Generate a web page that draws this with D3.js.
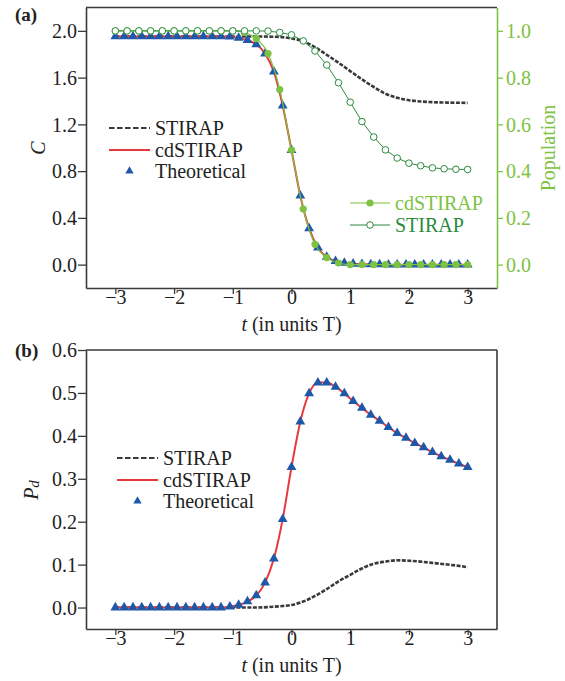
<!DOCTYPE html>
<html>
<head>
<meta charset="utf-8">
<script src="https://cdn.jsdelivr.net/npm/d3@7"></script>
<style>
  body { margin: 0; background: #fff; }
  svg text { font-family: "Liberation Serif", "Times New Roman", serif; }
</style>
</head>
<body>
<svg id="chart" width="565" height="681"></svg>
<script>
// time grids (in units T)
var tTheo = [-3, -2.85, -2.7, -2.55, -2.4, -2.25, -2.1, -1.95, -1.8, -1.65, -1.5, -1.35, -1.2,
  -1.05, -0.9, -0.75, -0.6, -0.45, -0.3, -0.15, 0, 0.15, 0.3, 0.45, 0.6, 0.75, 0.9, 1.05,
  1.2, 1.35, 1.5, 1.65, 1.8, 1.95, 2.1, 2.25, 2.4, 2.55, 2.7, 2.85, 3];
var tNum = [-3, -2.8, -2.6, -2.4, -2.2, -2, -1.8, -1.6, -1.4, -1.2, -1, -0.8, -0.6,
  -0.4, -0.2, 0, 0.2, 0.4, 0.6, 0.8, 1, 1.2, 1.4, 1.6, 1.8, 2, 2.2, 2.4, 2.6, 2.8, 3];

// panel (a): concurrence C
var cTheo = [1.952, 1.952, 1.952, 1.952, 1.952, 1.952, 1.952, 1.952, 1.952, 1.952, 1.952, 1.952, 1.952,
  1.950, 1.940, 1.920, 1.885, 1.805, 1.650, 1.360, 0.980, 0.590, 0.310, 0.145, 0.065, 0.030, 0.014, 0.007,
  0.003, 0.002, 0.001, 0, 0, 0, 0, 0, 0, 0, 0, 0, 0];
var cStirap = [1.952, 1.952, 1.952, 1.952, 1.952, 1.952, 1.952, 1.952, 1.952, 1.952, 1.952, 1.952, 1.952,
  1.951, 1.948, 1.935, 1.912, 1.860, 1.795, 1.728, 1.656, 1.585, 1.520, 1.462, 1.427, 1.407,
  1.396, 1.390, 1.387, 1.385, 1.384];
// panel (a): population (right axis)
var popStirap = [1, 1, 1, 1, 1, 1, 1, 1, 1, 1, 1, 1, 1,
  0.999, 0.993, 0.983, 0.957, 0.914, 0.854, 0.778, 0.695, 0.612, 0.546, 0.491, 0.456, 0.434,
  0.423, 0.414, 0.410, 0.408, 0.407];
var popCd = [1, 1, 1, 1, 1, 1, 1, 1, 1, 1, 1, 0.993,
  0.967, 0.903, 0.749, 0.490, 0.238, 0.087, 0.030, 0.007,
  0, 0, 0, 0, 0, 0, 0, 0, 0, 0, 0];

// panel (b): P_d
var pdTheo = [0, 0, 0, 0, 0, 0, 0, 0, 0, 0, 0, 0, 0,
  0.002, 0.006, 0.014, 0.028, 0.058, 0.114, 0.206, 0.327, 0.433, 0.499, 0.524, 0.524, 0.514, 0.499, 0.481,
  0.465, 0.449, 0.435, 0.420, 0.406, 0.395, 0.383, 0.373, 0.362, 0.352, 0.344, 0.335, 0.327];
var pdStirap = [0, 0, 0, 0, 0, 0, 0, 0, 0, 0, 0, 0, 0,
  0.001, 0.003, 0.006, 0.014, 0.027, 0.043, 0.061, 0.076, 0.091, 0.102, 0.107, 0.110, 0.109,
  0.107, 0.104, 0.101, 0.098, 0.094];

var xTicks = [-3, -2, -1, 0, 1, 2, 3];
var cTicks = [0, 0.4, 0.8, 1.2, 1.6, 2.0];
var popTicks = [0, 0.2, 0.4, 0.6, 0.8, 1.0];
var pdTicks = [0, 0.1, 0.2, 0.3, 0.4, 0.5, 0.6];

var RED = "#e8383d", BLUE = "#1f58a8", GRAY = "#3a3a3a",
    LGREEN = "#7dc242", DGREEN = "#2a8a3c", FRAME = "#3a3a3a";
var SERIF = "Liberation Serif";

var svg = d3.select("#chart").attr("font-family", SERIF);
var left = 86, right = 497;

var x = d3.scaleLinear().domain([-3.5, 3.5]).range([left, right]);

function fmt(d) { return d3.format(".1f")(d).replace("-", "\u2212"); }

function zip(ts, vs) { return ts.map(function(t, i) { return [t, vs[i]]; }); }

function drawXAxis(g, y0) {
  var ax = g.append("g").attr("transform", "translate(0," + y0 + ")");
  ax.call(d3.axisBottom(x).tickValues(d3.range(-3.5, 3.51, 0.5)).tickSize(3.5).tickFormat("").tickSizeOuter(0));
  ax.call(d3.axisBottom(x).tickValues(xTicks).tickSize(6).tickSizeOuter(0)
    .tickFormat(function(d) { return String(d).replace("-", "\u2212"); }));
  ax.attr("font-family", SERIF);
  ax.selectAll("path").attr("stroke", FRAME).attr("stroke-width", 1.6);
  ax.selectAll("line").attr("stroke", FRAME).attr("stroke-width", 1.3);
  ax.selectAll("text").attr("y", 16).attr("dy", 0)
    .attr("font-size", 20).attr("fill", "#222");
  g.append("text")
    .attr("x", x(0)).attr("y", y0 + 43)
    .attr("text-anchor", "middle").attr("font-size", 20).attr("fill", "#222")
    .call(function(t) {
      t.append("tspan").attr("font-style", "italic").text("t");
      t.append("tspan").text(" (in units T)");
    });
}

function drawYAxis(g, y, major, minorStep, color, side) {
  var d = y.domain();
  var minor = d3.range(Math.ceil(d[0] / minorStep) * minorStep, d[1] + 1e-9, minorStep);
  var ax = g.append("g").attr("transform", "translate(" + (side === "left" ? left : right) + ",0)");
  var mk = side === "left" ? d3.axisLeft : d3.axisRight;
  ax.call(mk(y).tickValues(minor).tickSize(4).tickFormat("").tickSizeOuter(0));
  ax.call(mk(y).tickValues(major).tickSize(side === "left" ? 8 : 6).tickPadding(side === "left" ? 1 : 3)
    .tickSizeOuter(0).tickFormat(fmt));
  ax.attr("font-family", SERIF);
  ax.selectAll("path").attr("stroke", color).attr("stroke-width", 1.6);
  ax.selectAll("line").attr("stroke", color).attr("stroke-width", 1.3);
  ax.selectAll("text").attr("font-size", 20).attr("fill", color === FRAME ? "#222" : color)
    .attr("dy", "0.34em");
}

function lineOf(y) {
  return d3.line().x(function(d) { return x(d[0]); }).y(function(d) { return y(d[1]); })
    .curve(d3.curveMonotoneX);
}

function triangles(g, data, y) {
  g.append("g").selectAll("path").data(data).enter().append("path")
    .attr("d", d3.symbol(d3.symbolTriangle, 42))
    .attr("transform", function(d) { return "translate(" + x(d[0]) + "," + y(d[1]) + ")"; })
    .attr("fill", BLUE);
}

function legendRow(g, x0, x1, yy, text, kind) {
  if (kind === "dash")
    g.append("line").attr("x1", x0).attr("x2", x1).attr("y1", yy).attr("y2", yy)
      .attr("stroke", GRAY).attr("stroke-width", 1.8).attr("stroke-dasharray", "5.5,2.5");
  else if (kind === "red")
    g.append("line").attr("x1", x0).attr("x2", x1).attr("y1", yy).attr("y2", yy)
      .attr("stroke", RED).attr("stroke-width", 2);
  else
    g.append("path").attr("d", d3.symbol(d3.symbolTriangle, 30))
      .attr("transform", "translate(" + ((x0 + x1) / 2) + "," + yy + ")").attr("fill", BLUE);
  g.append("text").attr("x", x1 + 5).attr("y", yy + 7).attr("font-size", 20).attr("fill", "#222").text(text);
}

// ---------------- panel (a) ----------------
var ga = svg.append("g");
var ya = d3.scaleLinear().domain([-0.2, 2.2]).range([288, 7.5]);
var yp = d3.scaleLinear().domain([-0.1, 1.1]).range([288, 7.5]);

ga.append("line").attr("x1", left).attr("x2", right).attr("y1", 7.5).attr("y2", 7.5)
  .attr("stroke", FRAME).attr("stroke-width", 1.6);

ga.append("path").datum(zip(tNum, cStirap)).attr("d", lineOf(ya))
  .attr("fill", "none").attr("stroke", GRAY).attr("stroke-width", 2.6).attr("stroke-dasharray", "4,1.5");
ga.append("path").datum(zip(tTheo, cTheo)).attr("d", lineOf(ya))
  .attr("fill", "none").attr("stroke", RED).attr("stroke-width", 2);
triangles(ga, zip(tTheo, cTheo), ya);

ga.append("path").datum(zip(tNum, popCd)).attr("d", lineOf(yp))
  .attr("fill", "none").attr("stroke", LGREEN).attr("stroke-width", 1.2);
ga.append("g").selectAll("circle").data(zip(tNum, popCd)).enter().append("circle")
  .attr("cx", function(d) { return x(d[0]); }).attr("cy", function(d) { return yp(d[1]); })
  .attr("r", 3.6).attr("fill", LGREEN);

ga.append("path").datum(zip(tNum, popStirap)).attr("d", d3.line()
    .x(function(d) { return x(d[0]); }).y(function(d) { return yp(d[1]); }))
  .attr("fill", "none").attr("stroke", DGREEN).attr("stroke-width", 1);
ga.append("g").selectAll("circle").data(zip(tNum, popStirap)).enter().append("circle")
  .attr("cx", function(d) { return x(d[0]); }).attr("cy", function(d) { return yp(d[1]); })
  .attr("r", 3.3).attr("fill", "#fff").attr("stroke", DGREEN).attr("stroke-width", 1);

drawXAxis(ga, 288);
drawYAxis(ga, ya, cTicks, 0.2, FRAME, "left");
drawYAxis(ga, yp, popTicks, 0.1, LGREEN, "right");

ga.append("text").attr("transform", "translate(45,148) rotate(-90)")
  .attr("text-anchor", "middle").attr("font-size", 20).attr("font-style", "italic").attr("fill", "#222").text("C");
ga.append("text").attr("transform", "translate(555,148) rotate(-90)")
  .attr("text-anchor", "middle").attr("font-size", 20).attr("fill", LGREEN).text("Population");
ga.append("text").attr("x", 15).attr("y", 21).attr("font-size", 19).attr("font-weight", "bold")
  .attr("fill", "#222").text("(a)");

var la = ga.append("g");
legendRow(la, 109, 150, 128, "STIRAP", "dash");
legendRow(la, 109, 150, 150, "cdSTIRAP", "red");
legendRow(la, 109, 150, 171, "Theoretical", "tri");

var lg = ga.append("g");
lg.append("line").attr("x1", 350).attr("x2", 390).attr("y1", 203).attr("y2", 203)
  .attr("stroke", LGREEN).attr("stroke-width", 1.2);
lg.append("circle").attr("cx", 370).attr("cy", 203).attr("r", 3.6).attr("fill", LGREEN);
lg.append("text").attr("x", 395).attr("y", 210).attr("font-size", 20).attr("fill", LGREEN).text("cdSTIRAP");
lg.append("line").attr("x1", 350).attr("x2", 390).attr("y1", 225).attr("y2", 225)
  .attr("stroke", DGREEN).attr("stroke-width", 1);
lg.append("circle").attr("cx", 370).attr("cy", 225).attr("r", 3.3)
  .attr("fill", "#fff").attr("stroke", DGREEN).attr("stroke-width", 1);
lg.append("text").attr("x", 395).attr("y", 232).attr("font-size", 20).attr("fill", DGREEN).text("STIRAP");

// ---------------- panel (b) ----------------
var gb = svg.append("g");
var yb = d3.scaleLinear().domain([-0.05, 0.6]).range([629, 350]);

gb.append("line").attr("x1", left).attr("x2", right).attr("y1", 350).attr("y2", 350)
  .attr("stroke", FRAME).attr("stroke-width", 1.6);
gb.append("line").attr("x1", right).attr("x2", right).attr("y1", 350).attr("y2", 629)
  .attr("stroke", FRAME).attr("stroke-width", 1.6);

gb.append("path").datum(zip(tNum, pdStirap)).attr("d", lineOf(yb))
  .attr("fill", "none").attr("stroke", GRAY).attr("stroke-width", 2.6).attr("stroke-dasharray", "4,1.5");
gb.append("path").datum(zip(tTheo, pdTheo)).attr("d", lineOf(yb))
  .attr("fill", "none").attr("stroke", RED).attr("stroke-width", 2);
triangles(gb, zip(tTheo, pdTheo), yb);

drawXAxis(gb, 629);
drawYAxis(gb, yb, pdTicks, 0.05, FRAME, "left");

gb.append("text").attr("transform", "translate(38,490) rotate(-90)")
  .attr("text-anchor", "middle").attr("font-size", 20).attr("font-style", "italic").attr("fill", "#222")
  .call(function(t) {
    t.append("tspan").text("P");
    t.append("tspan").attr("font-size", 15).attr("dy", 1).text("d");
  });
gb.append("text").attr("x", 15).attr("y", 357).attr("font-size", 19).attr("font-weight", "bold")
  .attr("fill", "#222").text("(b)");

var lb = gb.append("g");
legendRow(lb, 117, 158, 458, "STIRAP", "dash");
legendRow(lb, 117, 158, 480, "cdSTIRAP", "red");
legendRow(lb, 117, 158, 501, "Theoretical", "tri");
</script>
</body>
</html>
